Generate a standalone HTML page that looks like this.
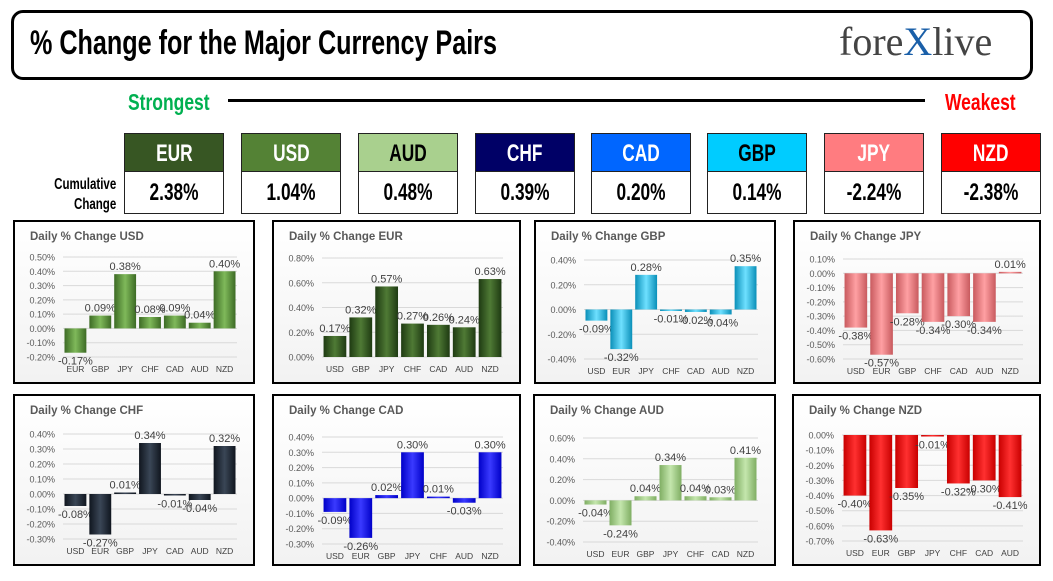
<!DOCTYPE html>
<html><head><meta charset="utf-8">
<style>
body{margin:0;background:#fff;width:1053px;height:581px;overflow:hidden;position:relative;font-family:"Liberation Sans",sans-serif}
.abs{position:absolute}
.cond{font-family:"Liberation Sans Narrow","Liberation Sans",sans-serif;font-weight:bold;display:inline-block;transform-origin:left center}
.hdr{position:absolute;width:100px;height:39px;top:133px;border:1px solid #222;box-sizing:border-box;text-align:center;line-height:39px;font-size:24px}
.val{position:absolute;width:100px;height:42px;top:172px;border:1px solid #222;border-top:none;box-sizing:border-box;text-align:center;line-height:42px;font-size:24px;background:#fff}
.panel{position:absolute;border:2px solid #000;box-sizing:border-box;background:linear-gradient(#fff,#f2f2f2)}
</style></head><body>
<div class="abs" style="left:11px;top:10px;width:1022px;height:70px;border:3px solid #000;border-radius:12px;box-sizing:border-box"></div>
<div class="abs" style="left:30px;top:24px;font-size:34px"><span class="cond" style="transform:scaleX(0.74)">% Change for the Major Currency Pairs</span></div>
<div class="abs" style="left:839px;top:18px;font-family:'Liberation Serif',serif;font-size:40px;color:#444">fore<span style="color:#1a5fa8">X</span>live</div>
<div class="abs" style="left:128px;top:89px;font-size:23px;color:#00b050"><span class="cond" style="transform:scaleX(0.76)">Strongest</span></div>
<div class="abs" style="left:228px;top:99px;width:697px;height:3px;background:#000"></div>
<div class="abs" style="left:945px;top:89px;font-size:23px;color:#ff0000"><span class="cond" style="transform:scaleX(0.76)">Weakest</span></div>
<div class="abs" style="left:30px;top:175px;font-size:16px;line-height:20px;text-align:right;width:75px"><span class="cond" style="transform:scaleX(0.72);transform-origin:right center">Cumulative<br>Change</span></div>
<div id="boxes"></div>
<div id="panels"></div>
<script>
const curNames=["EUR","USD","AUD","CHF","CAD","GBP","JPY","NZD"];
const curValues=["2.38%","1.04%","0.48%","0.39%","0.20%","0.14%","-2.24%","-2.38%"];
const curColors=["#375623","#548235","#a9d08e","#000066","#0066ff","#00ccff","#ff7c80","#ff0000"];
const curText=["#fff","#fff","#000","#fff","#fff","#000","#fff","#fff"];
const boxX=[124,241,358,475,591,707,824,941];
const bx=document.getElementById('boxes');
curNames.forEach((n,i)=>{
 const h=document.createElement('div');h.className='hdr';
 
 
 h.style.left=boxX[i]+'px';h.style.background=curColors[i];h.style.color=curText[i];
 h.innerHTML='<span class="cond" style="transform:scaleX(0.72);transform-origin:center">'+n+'</span>';bx.appendChild(h);
 const v=document.createElement('div');v.className='val';
 
 
 v.style.left=boxX[i]+'px';
 v.innerHTML='<span class="cond" style="transform:scaleX(0.72);transform-origin:center">'+curValues[i]+'</span>';bx.appendChild(v);
});

const usdCats=["EUR","GBP","JPY","CHF","CAD","AUD","NZD"], usdVals=[-0.17,0.09,0.38,0.08,0.09,0.04,0.40];
const eurCats=["USD","GBP","JPY","CHF","CAD","AUD","NZD"], eurVals=[0.17,0.32,0.57,0.27,0.26,0.24,0.63];
const gbpCats=["USD","EUR","JPY","CHF","CAD","AUD","NZD"], gbpVals=[-0.09,-0.32,0.28,-0.01,-0.02,-0.04,0.35];
const jpyCats=["USD","EUR","GBP","CHF","CAD","AUD","NZD"], jpyVals=[-0.38,-0.57,-0.28,-0.34,-0.30,-0.34,0.01];
const chfCats=["USD","EUR","GBP","JPY","CAD","AUD","NZD"], chfVals=[-0.08,-0.27,0.01,0.34,-0.01,-0.04,0.32];
const cadCats=["USD","EUR","GBP","JPY","CHF","AUD","NZD"], cadVals=[-0.09,-0.26,0.02,0.30,0.01,-0.03,0.30];
const audCats=["USD","EUR","GBP","JPY","CHF","CAD","NZD"], audVals=[-0.04,-0.24,0.04,0.34,0.04,0.03,0.41];
const nzdCats=["USD","EUR","GBP","JPY","CHF","CAD","AUD"], nzdVals=[-0.40,-0.63,-0.35,-0.01,-0.32,-0.30,-0.41];
const usdTicks=[-0.2,-0.1,0,0.1,0.2,0.3,0.4,0.5];
const eurTicks=[0,0.2,0.4,0.6,0.8];
const gbpTicks=[-0.4,-0.2,0,0.2,0.4];
const jpyTicks=[-0.6,-0.5,-0.4,-0.3,-0.2,-0.1,0,0.1];
const chfTicks=[-0.3,-0.2,-0.1,0,0.1,0.2,0.3,0.4];
const cadTicks=[-0.3,-0.2,-0.1,0,0.1,0.2,0.3,0.4];
const audTicks=[-0.4,-0.2,0,0.2,0.4,0.6];
const nzdTicks=[-0.7,-0.6,-0.5,-0.4,-0.3,-0.2,-0.1,0];

const charts=[
 {n:"USD",c:usdCats,v:usdVals,t:usdTicks,x:13,y:220,w:242,h:164,col:["#3d6b25","#7fb95a"],top:37,bot:137},
 {n:"EUR",c:eurCats,v:eurVals,t:eurTicks,x:272,y:220,w:249,h:164,col:["#1e3a12","#4f7a35"],top:38,bot:137},
 {n:"GBP",c:gbpCats,v:gbpVals,t:gbpTicks,x:534,y:220,w:242,h:164,col:["#0a8fb8","#6ee0ff"],top:40,bot:139},
 {n:"JPY",c:jpyCats,v:jpyVals,t:jpyTicks,x:793,y:220,w:248,h:164,col:["#c85a5e","#ffa0a3"],top:39,bot:139},
 {n:"CHF",c:chfCats,v:chfVals,t:chfTicks,x:13,y:394,w:242,h:172,col:["#10161f","#3a4656"],top:40,bot:145},
 {n:"CAD",c:cadCats,v:cadVals,t:cadTicks,x:272,y:394,w:249,h:172,col:["#0000c8","#3a3aff"],top:43,bot:150},
 {n:"AUD",c:audCats,v:audVals,t:audTicks,x:533,y:394,w:243,h:172,col:["#7fae63","#c4e6ad"],top:44,bot:148},
 {n:"NZD",c:nzdCats,v:nzdVals,t:nzdTicks,x:792,y:394,w:249,h:172,col:["#c80000","#ff3030"],top:41,bot:147},
];
const NS="http://www.w3.org/2000/svg";
const pp=document.getElementById('panels');
function mk(tag,attrs,parent){const e=document.createElementNS(NS,tag);for(const k in attrs)e.setAttribute(k,attrs[k]);parent.appendChild(e);return e;}
charts.forEach((ch,ci)=>{
 const d=document.createElement('div');d.className='panel';
 
 
 d.style.left=ch.x+'px';d.style.top=ch.y+'px';d.style.width=ch.w+'px';d.style.height=ch.h+'px';
 pp.appendChild(d);
 const svg=mk('svg',{width:ch.w-4,height:ch.h-4,style:'position:absolute;left:0;top:0'},d);
 const g=mk('linearGradient',{id:'g'+ci,x1:0,x2:1,y1:0,y2:0},mk('defs',{},svg));
 mk('stop',{offset:'0',  'stop-color':ch.col[0]},g);
 mk('stop',{offset:'0.5','stop-color':ch.col[1]},g);
 mk('stop',{offset:'1',  'stop-color':ch.col[0]},g);
 const title=mk('text',{x:15,y:18,'font-size':11.5,'font-weight':'bold',fill:'#595959'},svg);
 title.textContent='Daily % Change '+ch.n;
 
 
 const tmin=ch.t[0],tmax=ch.t[ch.t.length-1];
 const Y=v=>ch.top-2+(tmax-v)/(tmax-tmin)*(ch.bot-ch.top);
 const L=48,R=ch.w-20,bw=(R-L)/ch.c.length;
 const X=i=>L+bw*(i+0.5);
 ch.t.forEach(t=>{
  mk('line',{x1:L,x2:R,y1:Y(t),y2:Y(t),stroke:'#d9d9d9','stroke-width':1},svg);
  const tl=mk('text',{x:L-8,y:Y(t)+3.5,'font-size':9,'text-anchor':'end',fill:'#595959'},svg);
  tl.textContent=t.toFixed(2)+'%';
  
  
 });
 ch.v.forEach((v,i)=>{
  const y0=Y(0),y1=Y(v);
  const r=mk('rect',{x:X(i)-bw*0.44,y:Math.min(y0,y1),width:bw*0.88,height:Math.max(1.5,Math.abs(y1-y0)),fill:'url(#g'+ci+')'},svg);
  
  
  const lb=mk('text',{x:X(i),y:v>=0?y1-4:y1+12,'font-size':11,'text-anchor':'middle',fill:'#404040'},svg);
  lb.textContent=v.toFixed(2)+'%';
  
  
  const cl=mk('text',{x:X(i),y:ch.bot+13,'font-size':8.5,'text-anchor':'middle',fill:'#404040'},svg);
  cl.textContent=ch.c[i];
  
  
 });
});
</script>
</body></html>
